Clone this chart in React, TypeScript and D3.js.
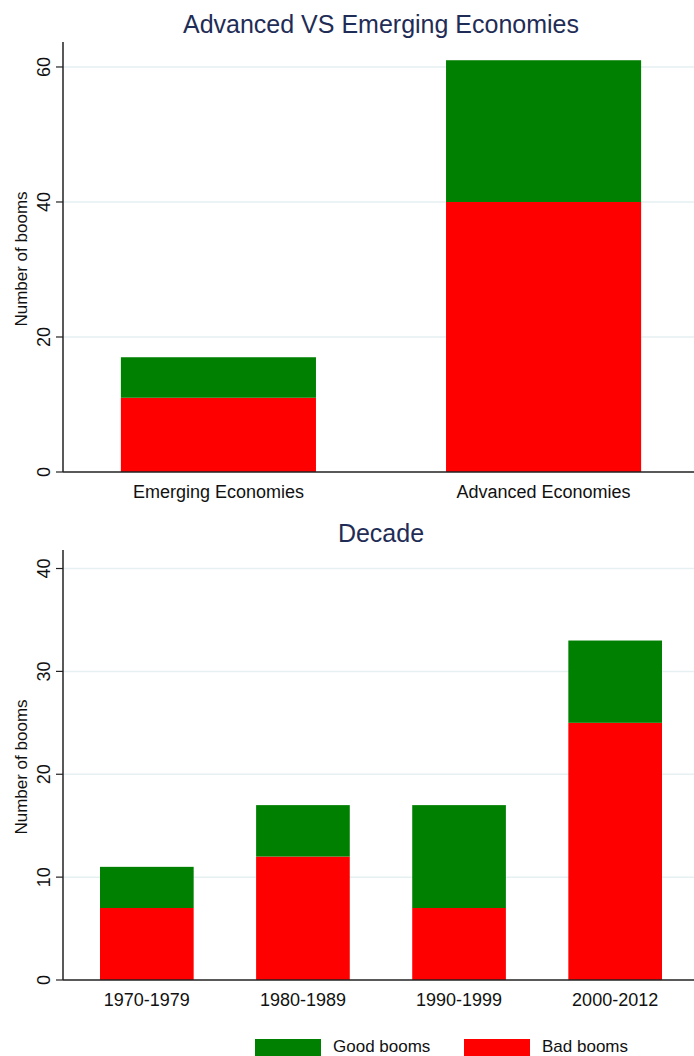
import React from "react";
import * as d3 from "d3";

const econCategories = ["Emerging Economies", "Advanced Economies"];
const econBad = [11, 40];
const econGood = [6, 21];
const econTicks = [0, 20, 40, 60];

const decadeCategories = ["1970-1979", "1980-1989", "1990-1999", "2000-2012"];
const decadeBad = [7, 12, 7, 25];
const decadeGood = [4, 5, 10, 8];
const decadeTicks = [0, 10, 20, 30, 40];

const legendLabels = ["Good booms", "Bad booms"];

const GREEN = "#008000";
const RED = "#ff0000";
const TITLE = "#1f2d56";
const FONT = "'Liberation Sans', Arial, Helvetica, sans-serif";

type PanelProps = {
  title: string;
  titleY: number;
  categories: string[];
  bad: number[];
  good: number[];
  ticks: number[];
  yMax: number;
  top: number;
  bottom: number;
  paddingOuter: number;
};

const X0 = 63;
const X1 = 699;

function Panel({ title, titleY, categories, bad, good, ticks, yMax, top, bottom, paddingOuter }: PanelProps) {
  const x = d3.scaleBand<string>().domain(categories).range([X0, X1]).paddingInner(0.4).paddingOuter(paddingOuter);
  const y = d3.scaleLinear().domain([0, yMax]).range([bottom, top]);
  const stackData = categories.map((c, i) => ({ cat: c, bad: bad[i], good: good[i] }));
  const series = d3.stack<any>().keys(["bad", "good"])(stackData);
  const colors: Record<string, string> = { bad: RED, good: GREEN };
  return (
    <g>
      <text x={381} y={titleY} textAnchor="middle" fontSize={25} fill={TITLE} fontFamily={FONT}>
        {title}
      </text>
      {ticks.filter((t) => t > 0).map((t) => (
        <line key={"g" + t} x1={X0} x2={X1} y1={y(t)} y2={y(t)} stroke="#e6eff1" strokeWidth={1.5} />
      ))}
      {series.map((s) => (
        <g key={s.key} fill={colors[s.key]}>
          {s.map((d, i) => (
            <rect
              key={i}
              x={x(categories[i])}
              width={x.bandwidth()}
              y={y(d[1])}
              height={y(d[0]) - y(d[1])}
            />
          ))}
        </g>
      ))}
      <line x1={X0} x2={X0} y1={top} y2={bottom} stroke="#222" strokeWidth={1.5} />
      <line x1={X0} x2={X1} y1={bottom} y2={bottom} stroke="#222" strokeWidth={1.5} />
      {ticks.map((t) => (
        <g key={"t" + t}>
          <line x1={56} x2={X0} y1={y(t)} y2={y(t)} stroke="#222" strokeWidth={1.2} />
          <text
            transform={`translate(50,${y(t)}) rotate(-90)`}
            textAnchor="middle"
            fontSize={18}
            fill="#111"
            fontFamily={FONT}
          >
            {t}
          </text>
        </g>
      ))}
      {categories.map((c) => (
        <text
          key={c}
          x={(x(c) as number) + x.bandwidth() / 2}
          y={bottom + 26}
          textAnchor="middle"
          fontSize={18}
          fill="#111"
          fontFamily={FONT}
        >
          {c}
        </text>
      ))}
      <text
        transform={`translate(27,${(top + bottom) / 2 + 2}) rotate(-90)`}
        textAnchor="middle"
        fontSize={17}
        fill="#111"
        fontFamily={FONT}
      >
        Number of booms
      </text>
    </g>
  );
}

export default function App() {
  const legendColors = [GREEN, RED];
  const legendX = [255, 464];
  return (
    <svg
      width={694}
      height={1056}
      style={{ position: "absolute", left: 0, top: 0, display: "block", background: "#fff" }}
    >
      <rect width={694} height={1056} fill="#fff" />
      <Panel
        title="Advanced VS Emerging Economies"
        titleY={33}
        categories={econCategories}
        bad={econBad}
        good={econGood}
        ticks={econTicks}
        yMax={63.7}
        top={42}
        bottom={472}
        paddingOuter={0.178}
      />
      <Panel
        title="Decade"
        titleY={542}
        categories={decadeCategories}
        bad={decadeBad}
        good={decadeGood}
        ticks={decadeTicks}
        yMax={41.8}
        top={550}
        bottom={980}
        paddingOuter={0.237}
      />
      {legendLabels.map((l, i) => (
        <g key={l}>
          <rect x={legendX[i]} y={1039} width={66} height={20} fill={legendColors[i]} />
          <text x={legendX[i] + 78} y={1052} fontSize={17} fill="#111" fontFamily={FONT}>
            {l}
          </text>
        </g>
      ))}
    </svg>
  );
}
